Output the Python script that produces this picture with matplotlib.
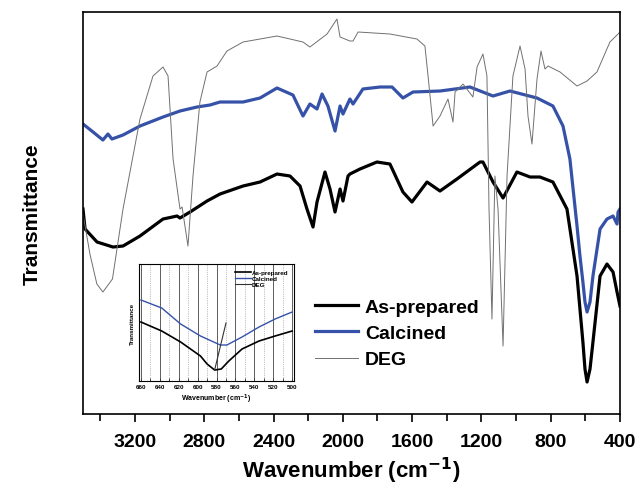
import numpy as np
import matplotlib.pyplot as plt

plt.rcParams['font.family'] = ['Liberation Sans', 'DejaVu Sans']
plt.rcParams['font.weight'] = 'bold'

# spectra (wavenumber, transmittance in arbitrary units)
asprep_wn = [3500, 3488, 3419, 3327, 3269, 3171, 3038, 2957, 2940, 2882, 2784, 2709,
             2576, 2478, 2380, 2305, 2247, 2207, 2172, 2149, 2103, 2074, 2045, 2016,
             1999, 1970, 1959, 1901, 1803, 1728, 1653, 1601, 1514, 1439, 1341, 1208,
             1191, 1133, 1075, 995, 919, 862, 787, 706, 648, 631, 614, 602, 590,
             573, 556, 515, 475, 440, 417, 400]
asprep_t = [205, 185, 172, 167, 168, 178, 195, 198, 196, 202, 213, 220,
            228, 232, 240, 238, 228, 205, 187, 212, 242, 225, 202, 225,
            213, 238, 240, 245, 252, 250, 222, 212, 232, 223, 235, 252,
            252, 232, 216, 242, 237, 237, 232, 205, 138, 105, 72, 45, 32,
            45, 72, 138, 150, 142, 122, 108]

calc_wn = [3500, 3442, 3385, 3356, 3333, 3269, 3171, 3038, 2940, 2842, 2767, 2709,
           2576, 2478, 2380, 2288, 2230, 2190, 2149, 2120, 2086, 2045, 2016, 1999,
           1959, 1941, 1884, 1785, 1716, 1653, 1595, 1439, 1266, 1133, 1035, 879,
           787, 729, 689, 648, 631, 614, 602, 590, 573, 556, 515, 475, 440, 417,
           411, 400]
calc_t = [290, 282, 274, 280, 275, 279, 288, 297, 303, 307, 309, 312,
          312, 316, 326, 319, 298, 310, 305, 320, 308, 283, 308, 300,
          315, 310, 325, 327, 327, 316, 322, 323, 327, 318, 323, 316,
          308, 288, 255, 188, 158, 132, 112, 102, 112, 138, 185, 195, 198, 190,
          202, 205]

deg_wn = [3500, 3460, 3420, 3385, 3330, 3269, 3171, 3096, 3038, 3009, 2980, 2940,
          2928, 2894, 2865, 2825, 2784, 2726, 2669, 2576, 2478, 2380, 2305, 2230,
          2190, 2091, 2034, 2016, 1959, 1941, 1912, 1728, 1572, 1526, 1508, 1479,
          1439, 1393, 1364, 1352, 1306, 1249, 1225, 1191, 1168, 1156, 1139, 1122,
          1104, 1075, 1052, 1018, 977, 948, 931, 908, 879, 856, 833, 815, 746,
          648, 590, 533, 458, 411, 400]
deg_t = [200, 160, 130, 122, 135, 205, 295, 338, 347, 338, 255, 205,
         207, 168, 238, 312, 342, 348, 363, 372, 375, 378, 375, 372,
         367, 380, 395, 377, 373, 373, 382, 380, 375, 368, 338, 288,
         298, 315, 292, 322, 330, 317, 347, 360, 338, 205, 95, 238,
         205, 68, 238, 338, 368, 345, 298, 270, 335, 363, 345, 348, 342,
         328, 333, 342, 372, 380, 382]

# inset (660-500 cm-1)
ins_calc_wn = [660, 638, 618, 597, 576, 569, 553, 535, 518, 500]
ins_calc_t = [81, 73, 57, 45, 36, 36, 44, 54, 62, 69]
ins_asprep_wn = [660, 638, 618, 597, 590, 582, 575, 567, 553, 535, 518, 500]
ins_asprep_t = [59, 50, 39, 25, 17, 11, 12, 20, 32, 40, 45, 50]
shift_wn = [582, 570]
shift_t = [11, 58]

blue = '#3552a8'

fig = plt.figure(figsize=(6.36, 4.89), dpi=100)
ax = fig.add_axes([0.1305, 0.1513, 0.8443, 0.8221])
ax.plot(asprep_wn, asprep_t, color='black', lw=2.3, label='As-prepared')
ax.plot(calc_wn, calc_t, color=blue, lw=2.3, label='Calcined')
ax.plot(deg_wn, deg_t, color='#707070', lw=0.7, label='DEG')
ax.set_xlim(3500, 400)
ax.set_ylim(0, 402)
ax.set_xticks(np.arange(3200, 399, -400))
ax.set_xticks(np.arange(3400, 399, -400), minor=True)
ax.set_yticks([])
ax.tick_params(axis='x', which='major', direction='out', length=6, width=1.2,
               labelsize=14, pad=8)
ax.tick_params(axis='x', which='minor', direction='out', length=5, width=1.2)
for lab in ax.get_xticklabels():
    lab.set_fontweight('bold')
for s in ax.spines.values():
    s.set_linewidth(1.2)
ax.set_xlabel('Wavenumber (cm$^{\\mathbf{-1}}$)', fontsize=16, fontweight='bold', labelpad=3)
ax.set_ylabel('Transmittance', fontsize=15, fontweight='bold', labelpad=30)
leg = ax.legend(loc='upper left', bbox_to_anchor=(0.418, 0.308), frameon=False,
                prop={'size': 14, 'weight': 'bold'}, handlelength=2.2,
                handletextpad=0.35, labelspacing=0.45, borderaxespad=0)

# inset
axi = fig.add_axes([0.2186, 0.2188, 0.2437, 0.2393])
for g in range(660, 499, -20):
    axi.axvline(g, color='#444444', lw=0.6)
for g in range(650, 500, -20):
    axi.axvline(g, color='#888888', lw=0.5, ls=':')
axi.plot(ins_asprep_wn, ins_asprep_t, color='black', lw=1.2, label='As-prepared')
axi.plot(ins_calc_wn, ins_calc_t, color=blue, lw=1.0, label='Calcined')
axi.plot(shift_wn, shift_t, color='#333333', lw=0.8, label='DEG')
axi.set_xlim(662, 498)
axi.set_ylim(0, 117)
axi.set_xticks(np.arange(660, 499, -20))
axi.set_xticks(np.arange(650, 500, -20), minor=True)
axi.set_yticks([])
axi.tick_params(axis='x', which='both', direction='in', length=2, width=0.6,
                labelsize=4.5, pad=2)
for s in axi.spines.values():
    s.set_linewidth(0.8)
axi.set_xlabel('Wavenumber (cm$^{\\mathbf{-1}}$)', fontsize=5, fontweight='bold', labelpad=2)
axi.set_ylabel('Transmittance', fontsize=4.5, fontweight='bold', labelpad=3)
axi.legend(loc='upper right', frameon=False, prop={'size': 4.5, 'weight': 'bold'},
           handlelength=2.5, handletextpad=0.2, labelspacing=0.1, borderaxespad=0.5)

fig.savefig('out.png', dpi=100)
